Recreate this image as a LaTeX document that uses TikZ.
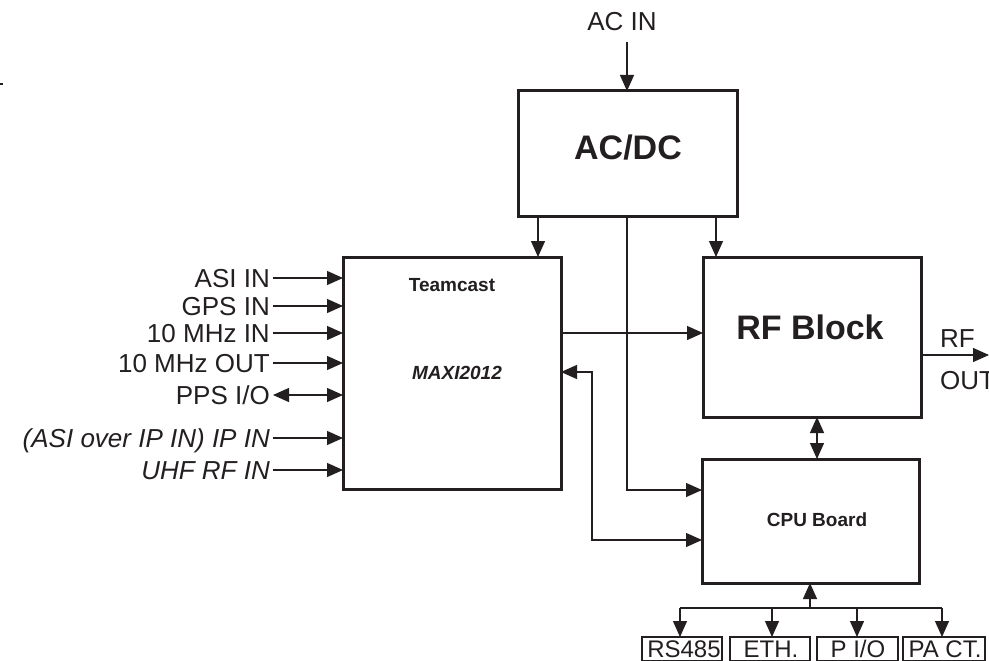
\documentclass[tikz,border=0pt]{standalone}
\usepackage{fontspec}
\setmainfont{Liberation Sans}
\usetikzlibrary{arrows.meta}
\definecolor{ink}{HTML}{231F20}
\begin{document}
\begin{tikzpicture}[x=1pt,y=-1pt,
  box/.style={draw=ink, line width=3pt, inner sep=0pt, outer sep=0pt},
  sbox/.style={draw=ink, line width=2.5pt, inner sep=0pt, outer sep=0pt},
  wire/.style={draw=ink, line width=1.3pt},
  conn/.style={wire, -{Triangle[length=16pt,width=14pt]}},
  conntwo/.style={wire, {Triangle[length=16pt,width=14pt]}-{Triangle[length=16pt,width=14pt]}},
  lab/.style={text=ink, font=\fontsize{26}{30}\selectfont, inner sep=0pt},
  ilab/.style={lab, font=\fontsize{26}{30}\selectfont\itshape},
  big/.style={text=ink, font=\fontsize{34}{38}\selectfont\bfseries, inner sep=0pt},
  small/.style={text=ink, font=\fontsize{19}{22}\selectfont\bfseries, inner sep=0pt},
  tiny/.style={text=ink, font=\fontsize{24}{26}\selectfont, inner sep=0pt}]
\useasboundingbox (0,0) rectangle (989,661);
\clip (0,0) rectangle (989,661);
\fill[white] (0,0) rectangle (989,661);
% tiny mark at left edge
\draw[ink, line width=1.5pt] (0,84) -- (3,84);

% boxes
\node[box, minimum width=219pt, minimum height=125pt] (acdc) at (627.5,153.5) {};
\node[box, minimum width=218pt, minimum height=232pt] (tc) at (452,373) {};
\node[box, minimum width=218pt, minimum height=160pt] (rf) at (812,337) {};
\node[box, minimum width=217pt, minimum height=124pt] (cpu) at (810.5,521) {};

% box texts
\node[big] (acdctxt) at (628,148) {AC/DC};
\node[big] (rftxt) at (810,327) {RF Block};
\node[small] (tctxt) at (452,285) {Teamcast};
\node[small, font=\fontsize{19}{22}\selectfont\bfseries\itshape] (maxi) at (457,373) {MAXI2012};
\node[small] (cputxt) at (817,520) {CPU Board};

% AC IN
\node[lab, anchor=base] (acin) at (622,31) {AC IN};
\coordinate (acinend) at (627,42);
\draw[conn] (acinend) -- (acdc.north -| acinend);

% from AC/DC
\coordinate (xa) at (538,0);
\coordinate (xb) at (627,0);
\coordinate (xc) at (716,0);
\coordinate (xd) at (592,0);
\coordinate (ycpua) at (0,490);
\coordinate (ycpub) at (0,540);
\coordinate (yloop) at (0,372);
\coordinate (ytr) at (0,333);
\draw[conn] (acdc.south -| xa) -- (tc.north -| xa);
\draw[conn] (acdc.south -| xc) -- (rf.north -| xc);
\draw[conn] (acdc.south -| xb) |- (cpu.west |- ycpua);

% Teamcast to RF Block
\draw[conn] (tc.east |- ytr) -- (rf.west |- ytr);
% loop Teamcast <-> CPU
\draw[conntwo] (tc.east |- yloop) -- (xd |- yloop) -- (xd |- ycpub) -- (cpu.west |- ycpub);

% RF <-> CPU
\coordinate (xe) at (817,0);
\draw[conntwo] (rf.south -| xe) -- (cpu.north -| xe);

% RF OUT
\coordinate (rfoutend) at (989,355);
\draw[conn] (rf.east |- rfoutend) -- (rfoutend);
\node[lab, anchor=base west] (rflab) at (940,347) {RF};
\node[lab, anchor=base west] (outlab) at (940,389) {OUT};

% left inputs
\foreach \name/\y/\txt in {asi/278/ASI IN, gps/306/GPS IN, mhzin/333/10 MHz IN, mhzout/363/10 MHz OUT}{
  \node[lab, anchor=base east] (\name) at (270,\y+9.5) {\txt};
  \coordinate (\name s) at (273,\y);
  \draw[conn] (\name s) -- (tc.west |- \name s);
}
\node[lab, anchor=base east] (pps) at (270,404.5) {PPS I/O};
\coordinate (ppss) at (273,395);
\draw[conntwo] (ppss) -- (tc.west |- ppss);
\node[ilab, anchor=base east] (ipin) at (270,447.5) {(ASI over IP IN) IP IN};
\coordinate (ipins) at (273,438);
\draw[conn] (ipins) -- (tc.west |- ipins);
\node[ilab, anchor=base east] (uhf) at (270,479.5) {UHF RF IN};
\coordinate (uhfs) at (273,470);
\draw[conn] (uhfs) -- (tc.west |- uhfs);

% bottom boxes
\node[sbox, minimum width=80pt, minimum height=24pt] (rs) at (682,649) {};
\node[sbox, minimum width=80pt, minimum height=24pt] (eth) at (770,649) {};
\node[sbox, minimum width=81pt, minimum height=24pt] (pio) at (857.5,649) {};
\node[sbox, minimum width=82pt, minimum height=24pt] (pact) at (944,649) {};
\node[tiny, anchor=base] (rstxt) at (684,657) {RS485};
\node[tiny, anchor=base] (ethtxt) at (771,657) {ETH.};
\node[tiny, anchor=base] (piotxt) at (858,657) {P I/O};
\node[tiny, anchor=base] (pacttxt) at (945,657) {PA CT.};

% bus
\coordinate (bus) at (810,608);
\coordinate (b1) at (680,608);
\coordinate (b2) at (772,608);
\coordinate (b3) at (857,608);
\coordinate (b4) at (942,608);
\draw[conn] (bus) -- (cpu.south -| bus);
\draw[wire] (b1) -- (b4);
\draw[conn] (b1) -- (rs.north -| b1);
\draw[conn] (b2) -- (eth.north -| b2);
\draw[conn] (b3) -- (pio.north -| b3);
\draw[conn] (b4) -- (pact.north -| b4);
\end{tikzpicture}
\end{document}
